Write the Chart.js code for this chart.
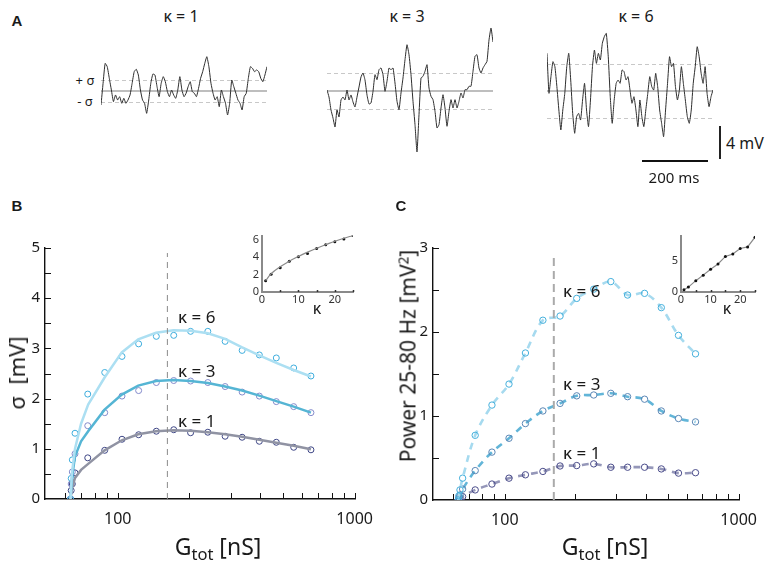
<!DOCTYPE html>
<html>
<head>
<meta charset="utf-8">
<script src="https://cdn.jsdelivr.net/npm/chart.js@4"></script>
<style>
  body { margin: 0; background: #fff; width: 768px; height: 571px; position: relative; overflow: hidden;
         font-family: "Noto Sans", sans-serif; color: #1a1a1a; }
  canvas { position: absolute; }
  .t { position: absolute; white-space: nowrap; line-height: 1; transform: translate(-50%, -50%); }
  .l { position: absolute; white-space: nowrap; line-height: 1; transform: translateY(-50%); }
  .v { position: absolute; white-space: nowrap; line-height: 1; transform: translate(-50%, -50%) rotate(-90deg); }
  .p { position: absolute; font: bold 15px "Liberation Sans", sans-serif; transform: translate(-50%, -50%); }
  sub { font-size: 0.72em; vertical-align: -0.35em; line-height: 0; }
  sup { font-size: 0.65em; vertical-align: 0.55em; line-height: 0; }
</style>
</head>
<body>
<!-- panel A -->
<div class="p" style="left:17px;top:20px">A</div>
<div class="t" style="left:181px;top:16px;font-size:16px">κ = 1</div>
<div class="t" style="left:407px;top:16px;font-size:16px">κ = 3</div>
<div class="t" style="left:636px;top:16px;font-size:16px">κ = 6</div>
<div class="t" style="left:85px;top:80px;font-size:13px">+ σ</div>
<div class="t" style="left:85px;top:101px;font-size:13px">- σ</div>
<canvas id="trK1" width="166" height="160" style="left:101px;top:11px"></canvas>
<canvas id="trK3" width="166" height="160" style="left:327px;top:11px"></canvas>
<canvas id="trK6" width="166" height="160" style="left:547px;top:11px"></canvas>
<div style="position:absolute;left:719px;top:126px;width:2px;height:33px;background:#222"></div>
<div class="l" style="left:726px;top:143px;font-size:16px">4 mV</div>
<div style="position:absolute;left:642px;top:160px;width:66px;height:2px;background:#111"></div>
<div class="t" style="left:674px;top:177px;font-size:15px">200 ms</div>

<!-- panel B -->
<div class="p" style="left:17px;top:205px">B</div>
<canvas id="chB" width="384" height="381" style="left:0;top:190px"></canvas>
<canvas id="inB" width="130" height="85" style="left:236px;top:226px"></canvas>
<div class="t" style="left:317px;top:308px;font-size:16px">κ</div>
<div class="l" style="left:178px;top:316px;font-size:17px">κ = 6</div>
<div class="l" style="left:178px;top:370px;font-size:17px">κ = 3</div>
<div class="l" style="left:178px;top:420px;font-size:17px">κ = 1</div>
<div class="v" style="left:16px;top:373px;font-size:22px">σ &nbsp;[mV]</div>
<div class="t" style="left:218px;top:546px;font-size:23px">G<sub>tot</sub> [nS]</div>

<!-- panel C -->
<div class="p" style="left:401px;top:205px">C</div>
<canvas id="chC" width="384" height="381" style="left:384px;top:190px"></canvas>
<canvas id="inC" width="113" height="85" style="left:655px;top:226px"></canvas>
<div class="t" style="left:727px;top:308px;font-size:16px">κ</div>
<div class="l" style="left:563px;top:290px;font-size:17px">κ = 6</div>
<div class="l" style="left:563px;top:383px;font-size:17px">κ = 3</div>
<div class="l" style="left:563px;top:452px;font-size:17px">κ = 1</div>
<div class="v" style="left:408px;top:356px;font-size:21px">Power 25-80 Hz [mV<sup>2</sup>]</div>
<div class="t" style="left:605px;top:546px;font-size:23px">G<sub>tot</sub> [nS]</div>

<script>
const FONT = '"Noto Sans", sans-serif';

// A: membrane potential traces (mV, relative to mean), 500 ms each
const TRACE_K1 = [-1.70, 0.93, 3.35, 2.95, 1.54, 0.12, -1.29, -0.48, -1.09, -0.69, -1.49, -0.89, -1.49, -1.09, -0.48,
  0.93, 2.34, 2.63, 1.94, 0.12, -1.09, -1.49, -2.71, -1.09, 0.93, 2.06, 1.94, 0.53, -0.69, 0.93, 1.74, 1.13, -0.08,
  -0.69, 0.12, -0.48, -0.89, 0.12, 1.74, 0.12, -0.69, -0.28, 0.53, 1.13, -0.08, -0.28, -0.69, 0.32, 1.54, 2.34, 3.35,
  4.16, 2.95, 0.93, -0.28, -1.09, -0.69, -1.90, 0.12, -0.69, -1.49, -2.91, -1.49, 1.33, 0.53, -0.28, -1.09, -1.49,
  -2.30, -0.69, -0.28, 1.54, 2.95, 2.75, 2.34, 2.55, 2.34, 1.54, 1.13, 1.94, 2.95];
const TRACE_K3 = [0.12, -0.73, -2.30, -3.27, -4.36, -2.30, -3.15, -1.09, -0.73, -1.09, 0.12, -1.09, -0.48, -1.33,
  -1.94, -0.73, 0.48, 1.70, 2.18, 1.33, -0.48, -1.58, -1.45, -0.04, 1.98, 1.37, 2.58, 2.79, 1.98, -0.04, 1.18, 2.79,
  2.58, 2.79, 0.97, -1.25, -2.27, -0.24, 1.58, 3.79, 5.61, 4.40, 1.98, -1.25, -4.08, -7.39, -2.87, 1.58, 1.78, 2.39,
  3.19, 0.36, -0.64, -1.05, -2.46, -4.48, -4.08, -2.06, -0.45, -2.06, -4.28, -2.46, -1.05, -2.06, -1.05, -2.06, -1.25,
  -0.24, -0.85, 0.16, 0.16, 0.57, 0.57, 2.39, 4.21, 4.40, 2.79, 2.18, 2.79, 3.19, 3.60, 6.18, 7.64, 5.94];
const TRACE_K6 = [4.57, -0.28, 1.74, 3.56, 2.95, 0.53, -2.30, -4.73, -2.30, -0.28, 2.95, 4.57, 1.33, -2.71, -5.13,
  -3.11, -2.71, -3.52, -1.09, 0.93, -2.30, -4.32, -1.09, 2.95, 4.97, 3.35, 4.57, 3.76, 5.78, 6.59, 6.99, 4.16, -0.69,
  -3.92, -1.09, 0.93, 1.33, 0.93, 2.55, 2.34, 1.33, 1.74, 0.12, -1.49, -0.69, -2.30, -4.32, -1.09, -3.11, -4.32, -2.30,
  -0.28, 1.74, 0.53, 0.12, 2.14, 0.53, -2.30, -3.92, -5.54, -2.30, 0.93, 4.16, 2.95, 3.35, 0.53, -1.09, 0.12, 2.95,
  0.93, -1.09, -3.11, -3.92, -2.30, 0.93, 2.95, 5.37, 4.16, 2.14, 0.93, 2.95, -0.28, -1.90, -0.69, 0.12];
const SIGMA_A = [1.33, 2.24, 3.33];

// B/C: total conductance (nS) of the simulated points and of the model curves
const G_PTS = [63.2, 63.6, 64.3, 66, 74.7, 88.1, 104.2, 122.5, 145.5, 172.3, 203, 240, 284, 335, 396, 467, 553, 654];
const G_FIT = [63.2, 64, 66, 70, 75, 88, 104, 122, 145, 172, 203, 240, 284, 335, 396, 467, 553, 654];
const G_REF = 162;

// B: sigma (mV)
const SIG_K1 = [0, 0.17, 0.30, 0.52, 0.82, 0.97, 1.19, 1.28, 1.35, 1.38, 1.32, 1.33, 1.25, 1.23, 1.15, 1.13, 1.03, 0.98];
const SIG_K3 = [0, 0.30, 0.54, 0.90, 1.46, 1.72, 2.05, 2.16, 2.32, 2.36, 2.35, 2.32, 2.24, 2.13, 2.05, 1.94, 1.84, 1.72];
const SIG_K6 = [0, 0.41, 0.78, 1.31, 2.09, 2.52, 2.84, 3.09, 3.24, 3.26, 3.34, 3.34, 3.14, 2.96, 2.87, 2.81, 2.61, 2.45];
const FIT_K1 = [0, 0.2, 0.42, 0.58, 0.7, 0.97, 1.17, 1.29, 1.35, 1.37, 1.36, 1.33, 1.29, 1.24, 1.18, 1.12, 1.06, 0.99];
const FIT_K3 = [0, 0.4, 0.85, 1.15, 1.35, 1.78, 2.08, 2.26, 2.35, 2.37, 2.35, 2.31, 2.24, 2.16, 2.06, 1.95, 1.84, 1.72];
const FIT_K6 = [0, 0.5, 1.0, 1.5, 1.88, 2.42, 2.92, 3.18, 3.31, 3.36, 3.35, 3.3, 3.19, 3.02, 2.86, 2.71, 2.57, 2.44];

// C: power 25-80 Hz (mV^2)
const POW_K1 = [0, 0.01, 0.02, 0.04, 0.12, 0.19, 0.26, 0.30, 0.34, 0.405, 0.41, 0.43, 0.39, 0.39, 0.39, 0.37, 0.32, 0.325];
const POW_K3 = [0, 0.03, 0.06, 0.13, 0.35, 0.57, 0.735, 0.91, 1.06, 1.15, 1.24, 1.25, 1.27, 1.23, 1.20, 1.06, 0.97, 0.93];
const POW_K6 = [0, 0.05, 0.12, 0.26, 0.77, 1.13, 1.38, 1.75, 2.14, 2.19, 2.40, 2.51, 2.60, 2.44, 2.46, 2.29, 1.96, 1.74];

// insets: value vs kappa
const KAPPA = [1, 2.5, 5, 7.5, 10, 12.5, 15, 17.5, 20, 22.5, 25];
const INSET_B = [1.31, 2.05, 2.8, 3.55, 4.05, 4.45, 5.0, 5.45, 5.78, 6.1, 6.5];
const INSET_B_FIT = [1.3, 2.1, 2.9, 3.55, 4.1, 4.6, 5.05, 5.45, 5.85, 6.2, 6.5];
const INSET_C = [0.38, 0.8, 1.85, 2.75, 3.7, 4.58, 5.8, 6.2, 7.1, 7.35, 8.95];

const X_LABELS = [100, 1000];
const X_TICKS = [60, 70, 80, 90, 100, 200, 300, 400, 500, 600, 700, 800, 900, 1000];
const Y_TICKS_B = [0.5, 1, 1.5, 2, 2.5, 3, 3.5, 4, 4.5, 5];
const Y_TICKS_C = [0.5, 1, 1.5, 2, 2.5, 3];
const K_TICKS = [5, 10, 15, 20, 25];
const K_LABELS = [0, 10, 20];
const INSET_B_LABELS = [0, 2, 4, 6];
const INSET_C_LABELS = [0, 5];

const pts = (xs, ys) => xs.map((x, i) => ({ x, y: ys[i] }));

// short tick marks drawn inside the axes
const inTicks = {
  id: 'inTicks',
  afterDatasetsDraw(chart, args, o) {
    const { ctx, chartArea: a, scales: { x, y } } = chart;
    ctx.save();
    ctx.strokeStyle = o.color || '#111';
    ctx.lineWidth = o.width || 1;
    ctx.beginPath();
    (o.x || []).forEach((v) => {
      const px = Math.round(x.getPixelForValue(v)) + 0.5;
      ctx.moveTo(px, a.bottom); ctx.lineTo(px, a.bottom - o.len);
    });
    (o.y || []).forEach((v) => {
      const py = Math.round(y.getPixelForValue(v)) + 0.5;
      ctx.moveTo(a.left, py); ctx.lineTo(a.left + o.len, py);
    });
    ctx.stroke();
    ctx.restore();
  },
};

// mean and +/- sigma lines behind the traces
const refLines = {
  id: 'refLines',
  beforeDatasetsDraw(chart, args, o) {
    const { ctx, chartArea: a, scales: { y } } = chart;
    ctx.save();
    ctx.strokeStyle = '#a8a8a8'; ctx.lineWidth = 1.5;
    ctx.beginPath();
    ctx.moveTo(a.left, y.getPixelForValue(0)); ctx.lineTo(a.right, y.getPixelForValue(0));
    ctx.stroke();
    ctx.strokeStyle = '#c8c8c8'; ctx.lineWidth = 1; ctx.setLineDash([4, 3]);
    ctx.beginPath();
    [o.sigma, -o.sigma].forEach((s) => {
      const py = Math.round(y.getPixelForValue(s)) + 0.5;
      ctx.moveTo(a.left, py); ctx.lineTo(a.right, py);
    });
    ctx.stroke();
    ctx.restore();
  },
};

function traceChart(id, values, sigma) {
  new Chart(document.getElementById(id), {
    type: 'line',
    data: {
      labels: values.map((_, i) => i),
      datasets: [{ data: values, borderColor: '#2e2e2e', borderWidth: 1, pointRadius: 0, tension: 0.15, clip: false }],
    },
    options: {
      responsive: false, animation: false, events: [],
      layout: { padding: 0 },
      plugins: { legend: { display: false }, tooltip: { enabled: false }, refLines: { sigma } },
      scales: { x: { display: false, offset: false }, y: { display: false, min: -9.7, max: 9.7 } },
    },
    plugins: [refLines],
  });
}

traceChart('trK1', TRACE_K1, SIGMA_A[0]);
traceChart('trK3', TRACE_K3, SIGMA_A[1]);
traceChart('trK6', TRACE_K6, SIGMA_A[2]);

const xAxis = (h) => ({
  type: 'logarithmic', min: 49.3, max: 1010,
  border: { color: '#111', width: 1.4 },
  grid: { display: false, drawTicks: false },
  ticks: { autoSkip: false, maxRotation: 0, padding: 11, color: '#1a1a1a',
           font: { family: FONT, size: 16 }, callback: (v) => String(v) },
  afterBuildTicks: (s) => { s.ticks = X_LABELS.map((v) => ({ value: v })); },
  afterFit: (s) => { s.height = h; },
});

const yAxis = (max, w) => ({
  min: 0, max,
  border: { color: '#111', width: 1.4 },
  grid: { display: false, drawTicks: false },
  ticks: { stepSize: 1, padding: 5, color: '#1a1a1a', font: { family: FONT, size: 15 } },
  afterFit: (s) => { s.width = w; },
});

const baseOpts = {
  responsive: false, animation: false, events: [],
};

// B: sigma vs G_tot
new Chart(document.getElementById('chB'), {
  type: 'line',
  data: {
    datasets: [
      { data: [{ x: G_REF, y: 0 }, { x: G_REF, y: 4.9 }], borderColor: '#8a8a8a', borderWidth: 1, borderDash: [6, 5], pointRadius: 0 },
      { data: pts(G_FIT, FIT_K6), borderColor: '#acdff2', borderWidth: 2.5, pointRadius: 0 },
      { data: pts(G_FIT, FIT_K3), borderColor: '#55b5d4', borderWidth: 2.5, pointRadius: 0 },
      { data: pts(G_FIT, FIT_K1), borderColor: '#9093a3', borderWidth: 2.5, pointRadius: 0 },
      { data: pts(G_PTS, SIG_K6), showLine: false, pointRadius: 3, pointBorderWidth: 1, pointBorderColor: '#3eaddd', pointBackgroundColor: 'rgba(0,0,0,0)' },
      { data: pts(G_PTS, SIG_K3), showLine: false, pointRadius: 3, pointBorderWidth: 1, pointBorderColor: '#838acb', pointBackgroundColor: 'rgba(0,0,0,0)' },
      { data: pts(G_PTS, SIG_K1), showLine: false, pointRadius: 3, pointBorderWidth: 1, pointBorderColor: '#3d4585', pointBackgroundColor: 'rgba(0,0,0,0)' },
    ],
  },
  options: {
    ...baseOpts,
    layout: { padding: { left: 0, top: 58, right: 20, bottom: 0 } },
    plugins: { legend: { display: false }, tooltip: { enabled: false },
               inTicks: { x: X_TICKS, y: Y_TICKS_B, len: 6, width: 1 } },
    scales: { x: xAxis(72), y: yAxis(5, 45) },
  },
  plugins: [inTicks],
});

// C: power vs G_tot
const dashed = (ys, line, dot) => ({
  data: pts(G_PTS, ys), borderColor: line, borderWidth: 2.6, borderDash: [7, 6], tension: 0.35,
  pointRadius: 3.2, pointBorderWidth: 1, pointBorderColor: dot, pointBackgroundColor: 'rgba(0,0,0,0)',
});
new Chart(document.getElementById('chC'), {
  type: 'line',
  data: {
    datasets: [
      { data: [{ x: G_REF, y: 0 }, { x: G_REF, y: 2.94 }], borderColor: '#aaaaaa', borderWidth: 2, borderDash: [8, 5], pointRadius: 0 },
      dashed(POW_K6, '#a6daef', '#45b0dc'),
      dashed(POW_K3, '#62b5d8', '#5a86b5'),
      dashed(POW_K1, '#9597b9', '#4a4c8a'),
    ],
  },
  options: {
    ...baseOpts,
    layout: { padding: { left: 0, top: 58, right: 16, bottom: 0 } },
    plugins: { legend: { display: false }, tooltip: { enabled: false },
               inTicks: { x: X_TICKS, y: Y_TICKS_C, len: 6, width: 1 } },
    scales: { x: xAxis(71), y: yAxis(3, 49) },
  },
  plugins: [inTicks],
});

// insets
function insetChart(id, yMax, yLabels, datasets) {
  new Chart(document.getElementById(id), {
    type: 'line',
    data: { datasets },
    options: {
      ...baseOpts,
      layout: { padding: { left: 0, top: 7, right: 13, bottom: 0 } },
      plugins: { legend: { display: false }, tooltip: { enabled: false },
                 inTicks: { x: K_TICKS, len: 2, width: 1.5, color: '#333' } },
      scales: {
        x: { type: 'linear', min: 0, max: 25,
             border: { color: '#8a8a8a', width: 2 }, grid: { display: false, drawTicks: false },
             ticks: { padding: 1, color: '#333', font: { family: FONT, size: 11 }, maxRotation: 0 },
             afterBuildTicks: (s) => { s.ticks = K_LABELS.map((v) => ({ value: v })); },
             afterFit: (s) => { s.height = 19; } },
        y: { min: 0, max: yMax,
             border: { color: '#8a8a8a', width: 2 }, grid: { display: false, drawTicks: false },
             ticks: { padding: 3, color: '#333', font: { family: FONT, size: 11 } },
             afterBuildTicks: (s) => { s.ticks = yLabels.map((v) => ({ value: v })); },
             afterFit: (s) => { s.width = 26; } },
      },
    },
    plugins: [inTicks],
  });
}

insetChart('inB', 6.5, INSET_B_LABELS, [
  { data: pts(KAPPA, INSET_B_FIT), borderColor: '#8a8a8a', borderWidth: 1.2, pointRadius: 0, tension: 0.4 },
  { data: pts(KAPPA, INSET_B), showLine: false, pointRadius: 1.5, pointBorderWidth: 0, pointBackgroundColor: '#111' },
]);
insetChart('inC', 9.2, INSET_C_LABELS, [
  { data: pts(KAPPA, INSET_C), borderColor: '#8a8a8a', borderWidth: 1.2, pointRadius: 1.5,
    pointBorderWidth: 0, pointBackgroundColor: '#111' },
]);
</script>
</body>
</html>
